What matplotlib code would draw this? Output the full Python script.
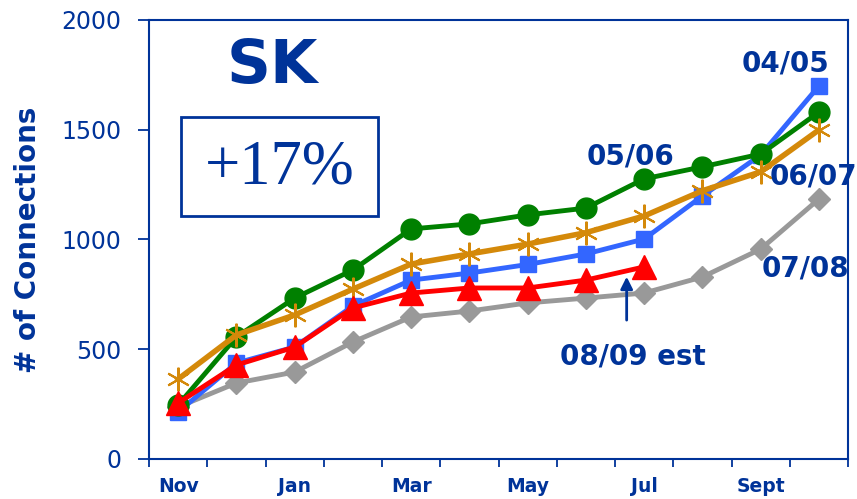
import numpy as np
import matplotlib.pyplot as plt
from matplotlib.patches import Rectangle

months = ['Nov', 'Dec', 'Jan', 'Feb', 'Mar', 'Apr', 'May', 'Jun', 'Jul', 'Aug', 'Sept', 'Oct']
tick_labels = ['Nov', 'Jan', 'Mar', 'May', 'Jul', 'Sept']

s0405 = [214, 437, 510, 697, 815, 847, 886, 934, 1002, 1198, 1385, 1699]
s0506 = [246, 556, 733, 861, 1048, 1071, 1112, 1143, 1276, 1331, 1389, 1580]
s0607 = [364, 565, 656, 774, 888, 934, 979, 1031, 1107, 1222, 1308, 1499]
s0708 = [237, 346, 396, 533, 647, 674, 711, 733, 756, 829, 956, 1184]
s0809 = [255, 428, 510, 688, 756, 779, 779, 815, 875]

navy = '#003399'
x = np.arange(len(months))

fig = plt.figure(figsize=(8.57, 4.99), dpi=100)
ax = fig.add_axes([0.1739, 0.0802, 0.8156, 0.8798])

ax.plot(x, s0708, color='#999999', lw=3.5, marker='D', ms=11, zorder=2)
ax.plot(x, s0405, color='#3366FF', lw=3.5, marker='s', ms=11, zorder=3)
ax.plot(x, s0506, color='#008000', lw=3.5, marker='o', ms=15, zorder=4)
ax.plot(x, s0607, color='#D4890A', lw=4, marker=(6, 2, 0), ms=17, mew=1.5, zorder=5)
ax.plot(x[:len(s0809)], s0809, color='#FF0000', lw=3.5, marker='^', ms=17, zorder=6)

ax.set_xlim(-0.5, 11.5)
ax.set_ylim(0, 2000)
ax.set_yticks([0, 500, 1000, 1500, 2000])
ax.set_xticks(np.arange(-0.5, 12, 1))
ax.set_xticklabels([])
ax.set_xticks(x[::2], minor=True)
ax.set_xticklabels(tick_labels, minor=True, fontsize=13.5, fontweight='bold', color=navy)
ax.tick_params(axis='x', which='minor', length=0, pad=13)
ax.tick_params(axis='x', which='major', length=6, width=1.3, color=navy, direction='out')
ax.tick_params(axis='y', length=8, width=1.3, color=navy, labelsize=17, labelcolor=navy, pad=12)
for sp in ax.spines.values():
    sp.set_color(navy)
    sp.set_linewidth(1.5)

ax.set_ylabel('# of Connections', fontsize=20, fontweight='bold', color=navy, labelpad=14)

ax.text(0.177, 0.893, 'SK', transform=ax.transAxes, ha='center', va='center',
        fontsize=44, fontweight='bold', color=navy)
ax.add_patch(Rectangle((0.0458, 0.5535), 0.282, 0.2255, transform=ax.transAxes,
                       fill=False, edgecolor=navy, lw=2, zorder=7))
ax.text(0.187, 0.662, '+17%', transform=ax.transAxes, ha='center', va='center',
        fontsize=45, family='Liberation Serif', color=navy)

lab = dict(fontsize=20, fontweight='bold', color=navy, ha='center', va='center', zorder=8)
ax.text(10.43, 1800, '04/05', **lab)
ax.text(7.77, 1376, '05/06', **lab)
ax.text(10.9, 1285, '06/07', clip_on=False, **lab)
ax.text(10.77, 870, '07/08', **lab)
ax.text(7.8, 465, '08/09 est', **lab)
ax.annotate('', xy=(7.7, 843), xytext=(7.7, 620),
            arrowprops=dict(arrowstyle='-|>', color=navy, lw=2, mutation_scale=18))

fig.savefig('out.png', dpi=100)
